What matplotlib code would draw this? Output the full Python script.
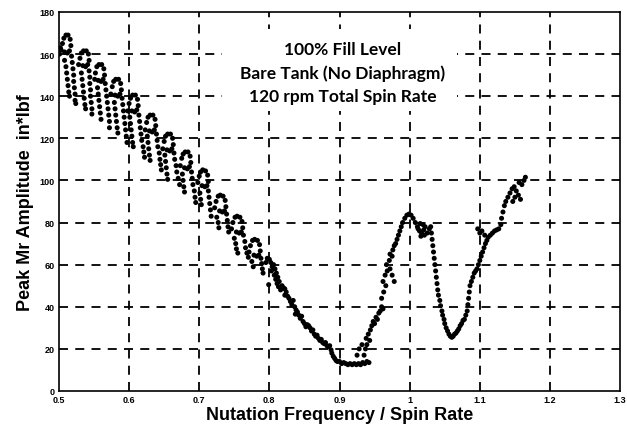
import matplotlib
matplotlib.use("Agg")
import matplotlib.pyplot as plt
from matplotlib.patches import Rectangle

# ---- data ----
# scallops 0.5 - 0.8
s1_x = [0.503,0.505,0.507,0.510,0.513,0.516,0.517,0.515,0.512,0.508,
        0.508,0.510,0.511,0.512,0.513,0.514,0.515,
        0.518,0.519,0.520,0.521,0.521,0.522,0.523,0.523,0.524,0.501,0.502]
s1_y = [162,165,167.5,169,169,167,164,161.5,160.5,161,
        157,154,151,148,145,142,140,
        159,156,153,150,147,144,141,138,136.5,160,163]
s2_x = [0.528,0.530,0.532,0.535,0.539,0.542,0.543,0.541,0.538,0.534,
        0.532,0.533,0.534,0.535,0.536,0.537,0.538,
        0.543,0.544,0.544,0.545,0.545,0.546,0.547,0.547]
s2_y = [155,158,160.5,161.5,161.5,160,157,155,154,154.5,
        151,148,145,142,139,136,134,
        152,149,146,143,140,137,134,131.5]
s3_x = [0.551,0.552,0.554,0.557,0.561,0.564,0.565,0.563,0.560,0.556,
        0.555,0.556,0.557,0.558,0.559,0.560,
        0.566,0.567,0.568,0.569,0.570,0.571,0.572,0.572]
s3_y = [148,151,154,155,155,153,150,148,147,147.5,
        144,141,138,135,132,129,
        146,143,140,137,134,131,128,125]
s4_x = [0.574,0.576,0.578,0.581,0.585,0.588,0.589,0.587,0.584,0.580,
        0.579,0.580,0.581,0.582,0.583,0.584,
        0.590,0.591,0.592,0.593,0.594,0.595,0.596,0.597]
s4_y = [141,144.5,147,148,148,146,143,141,140,140.5,
        137,134,131,128,125,122.5,
        139,136,133,130,127,124,121,118]
s5_x = [0.598,0.600,0.602,0.605,0.609,0.612,0.613,0.611,0.608,0.604,
        0.601,0.602,0.603,0.604,0.605,0.606,
        0.614,0.615,0.616,0.617,0.618,0.620,0.621,0.622]
s5_y = [133,136.5,139,140.5,140.5,138.5,135.5,133.5,132.5,133,
        130,127,124,121,118,116,
        131,128,125,122,119,116,113.5,111]
s6_x = [0.623,0.625,0.627,0.630,0.634,0.637,0.638,0.636,0.633,0.629,
        0.626,0.627,0.628,0.629,0.630,
        0.639,0.640,0.641,0.643,0.644,0.645,0.646]
s6_y = [124,127.5,130,131,131,129,126,124,123,123.5,
        121,118,115,112,109.5,
        122,119,116,113,110,107.5,105]
s7_x = [0.648,0.650,0.652,0.655,0.659,0.662,0.663,0.661,0.658,0.654,
        0.651,0.652,0.653,0.654,0.655,
        0.664,0.665,0.667,0.668,0.670,0.672]
s7_y = [115,118.5,121,122,122,120,117,115,114,114.5,
        112,109,106,103,100.5,
        113,110,107,104,101,98]
s8_x = [0.673,0.675,0.677,0.680,0.684,0.687,0.688,0.686,0.683,0.679,
        0.676,0.677,0.678,0.679,
        0.689,0.690,0.691,0.693,0.694,0.695]
s8_y = [107,110.5,112.5,113.5,113.5,111.5,108.5,106.5,105.5,106,
        103,100,97,94.5,
        104,101,98,95,92,89.5]
s9_x = [0.698,0.700,0.702,0.705,0.709,0.712,0.713,0.711,0.708,0.704,
        0.701,0.702,0.703,
        0.713,0.714,0.715,0.716,0.717]
s9_y = [99,102,104,105,104.5,102.5,99.5,97.5,97,97.5,
        94,91,88.5,
        95,92,89,86,83]
s10_x = [0.722,0.724,0.727,0.730,0.734,0.737,0.738,0.736,0.733,0.729,
         0.725,0.727,0.728,
         0.739,0.740,0.741,0.742]
s10_y = [87,90,92.5,93,92.5,90.5,87.5,85.5,85,85.5,
         82.5,80,77.5,
         84,81,78,75.5]
s11_x = [0.746,0.748,0.751,0.754,0.758,0.761,0.762,0.760,0.757,0.753,
         0.750,0.752,0.753,0.755,
         0.763,0.765,0.766,0.768,0.770]
s11_y = [77,80,82.5,83,82.5,80.5,77.5,75.5,75,75.5,
         72.5,70,67.5,65.5,
         74,71,68,65.5,63.5]
s12_x = [0.771,0.773,0.776,0.779,0.783,0.786,0.787,0.785,0.782,0.778,
         0.775,0.777,
         0.788,0.789,0.790,0.791]
s12_y = [66,69,71.5,72,71.5,69.5,66.5,64.5,64,64.5,
         61.5,59,
         63,60.5,58,56]

# descent to the minimum near 0.9
d1_x = [0.795,0.797,0.800,0.802,0.804,0.803,0.806,0.808,0.807,0.810,0.809,0.812,0.811,0.814,0.813,0.799,
        0.816,0.818,0.820,0.822,0.824,0.822,0.826,0.828,0.830,0.832,0.834,0.836,0.838,0.837,0.840,
        0.842,0.844,0.846,0.848,0.850,0.852,0.854,0.856,0.858,0.860,0.862,0.864,0.866,0.868,0.870,
        0.872,0.874,0.876,0.878,0.880,0.882,0.884,0.886,0.888,0.889,0.891,0.893,0.895,
        0.897,0.900,0.903,0.906,0.909,0.912,0.915,0.918,0.921,0.924,0.927,0.930,0.933,0.936,0.939,0.942]
d1_y = [61,63,62.5,61,59,57,60,58,55,56,53,54,51,52,49.5,50.5,
        48,50,49,48.5,47,45.5,45,44,42.5,41,43,40,38.5,36.5,37.5,
        36,34.5,35.5,33,32,30.5,31.5,31,30,28.5,29,27,26,26.5,25,
        24,24.5,23,22.5,23,21.5,21,21.5,19.5,18,16.5,15.5,14.5,
        14,14,13,13.5,13,12.5,13,12.5,13,12.5,13,12.5,13.5,13,14,13.5]

# rise to the peak near 1.0
r1_x = [0.935,0.937,0.939,0.938,0.941,0.943,0.944,0.946,0.948,0.950,0.952,0.954,0.956,0.958,
        0.960,0.962,0.960,0.963,0.962,0.966,0.965,0.968,0.967,0.971,0.972,0.975,0.976,0.978,
        0.980,0.982,0.984,0.986,0.988,0.990,0.993,0.996,0.999,1.002,1.005,1.008,1.011,1.014,
        1.017,1.020,1.022,1.019,1.015,1.012,1.016,1.021,1.025,1.028,1.030,
        0.975,0.978,0.972,0.932,0.928,0.925]
r1_y = [17,20,22,25,27,24,29,31,33,32,35,34,37,38,
        40,39,44,47,52,50,55,57,60,62,65,64,67,69,
        70,72,74,76,78,80,82,83.5,84,83.5,82,80,78,76,
        75,76.5,78,79,79.5,77,73.5,74,75,77,78,
        55,52,58,22,20,17]

# second dip near 1.06 and rise
d2_x = [1.031,1.032,1.033,1.034,1.035,1.036,1.037,1.038,1.039,1.040,1.041,1.043,1.044,1.046,
        1.047,1.049,1.050,1.052,1.054,1.056,1.058,1.060,1.062,1.064,1.066,1.068,1.070,1.072,
        1.074,1.076,1.078,1.080,1.082,1.083,1.084,1.085,1.086,1.088,1.090,1.092,1.094,1.096,
        1.098,1.100,1.102,1.104,1.106,1.108,1.110,1.112,1.115,1.118,1.121,1.124,1.127,1.130,
        1.131,1.133,1.135,1.137,1.140,1.143,1.146,1.149,1.152,1.155,1.158,1.150,1.147,1.160,
        1.163,1.165,1.156,1.097,1.100,1.103,1.107]
d2_y = [75,72,69,66,63,60,57,54,51,48,45.5,43,40.5,38,
        36,34,32,30,28.5,27,26,25.5,26,27,27.5,28.5,29.5,31,
        32,33.5,34,36,38,41,44,47,50,52,54,56,57,58,
        60,62,64,66,68,70,71.5,73,74,75,76,76.5,77,79,
        82,85,88,90,92,94,96,97,95,93,91,92,90,98,
        100,101.5,99,77,75,76,74]

xs = [s1_x, s2_x, s3_x, s4_x, s5_x, s6_x, s7_x, s8_x, s9_x, s10_x, s11_x, s12_x, d1_x, r1_x, d2_x]
ys = [s1_y, s2_y, s3_y, s4_y, s5_y, s6_y, s7_y, s8_y, s9_y, s10_y, s11_y, s12_y, d1_y, r1_y, d2_y]

x_ticks = [0.5, 0.6, 0.7, 0.8, 0.9, 1.0, 1.1, 1.2, 1.3]
x_tick_labels = ["0.5", "0.6", "0.7", "0.8", "0.9", "1", "1.1", "1.2", "1.3"]
y_ticks = [0, 20, 40, 60, 80, 100, 120, 140, 160, 180]

annotation = ["100% Fill Level", "Bare Tank (No Diaphragm)", "120 rpm Total Spin Rate"]

# ---- figure ----
fig = plt.figure(figsize=(6.27, 4.31), dpi=100)
ax = fig.add_axes([0.094, 0.0905, 0.895, 0.8795])

for gx in x_ticks[1:-1]:
    ax.axvline(gx, color="black", lw=1.3, ls=(0, (5, 4)), zorder=1)
for gy in y_ticks[1:-1]:
    ax.axhline(gy, color="black", lw=1.3, ls=(0, (5, 4)), zorder=1)

# white box behind the annotation (hides the grid there)
ax.add_patch(Rectangle((0.733, 133), 0.335, 39, facecolor="white", edgecolor="none",
                       zorder=2))

for x, y in zip(xs, ys):
    ax.scatter(x, y, s=13, color="black", edgecolors="none", zorder=3)

ax.set_xlim(0.5, 1.3)
ax.set_ylim(0, 180)
ax.set_xticks(x_ticks)
ax.set_xticklabels(x_tick_labels)
ax.set_yticks(y_ticks)
ax.tick_params(axis="both", labelsize=6.5, length=0, pad=3)
for lab in ax.get_xticklabels() + ax.get_yticklabels():
    lab.set_fontweight("bold")
    lab.set_family("Liberation Sans")

for sp in ax.spines.values():
    sp.set_color("black")
    sp.set_linewidth(1.2)

ax.set_xlabel("Nutation Frequency / Spin Rate", fontsize=13, family="Liberation Sans",
              fontweight="bold", labelpad=1)
ax.set_ylabel("Peak Mr Amplitude  in*lbf", fontsize=13, family="Liberation Sans",
              fontweight="bold", labelpad=4)

for i, line in enumerate(annotation):
    ax.text(0.905, 162.5 - i * 11.2, line, ha="center", va="center", fontsize=12.5,
            family="Lato", fontweight="bold", color="black", zorder=4)

fig.savefig("out.png", dpi=100)
